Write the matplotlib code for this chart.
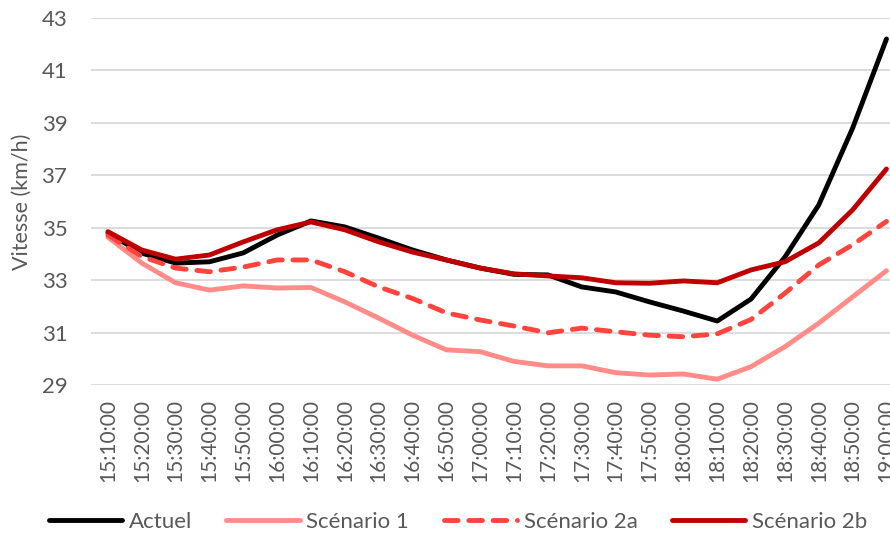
import matplotlib
matplotlib.use("Agg")
import matplotlib.pyplot as plt

plt.rcParams['font.family'] = ['Lato', 'DejaVu Sans']

times = ["15:10:00", "15:20:00", "15:30:00", "15:40:00", "15:50:00", "16:00:00",
         "16:10:00", "16:20:00", "16:30:00", "16:40:00", "16:50:00", "17:00:00",
         "17:10:00", "17:20:00", "17:30:00", "17:40:00", "17:50:00", "18:00:00",
         "18:10:00", "18:20:00", "18:30:00", "18:40:00", "18:50:00", "19:00:00"]

actuel = [34.80, 34.03, 33.65, 33.70, 34.04, 34.72, 35.26, 35.03, 34.60, 34.15, 33.77, 33.46,
          33.22, 33.20, 32.74, 32.55, 32.17, 31.82, 31.44, 32.28, 33.88, 35.87, 38.80, 42.20]
scen1 = [34.64, 33.65, 32.90, 32.62, 32.78, 32.70, 32.72, 32.17, 31.55, 30.90, 30.34, 30.27,
         29.90, 29.73, 29.73, 29.47, 29.38, 29.42, 29.22, 29.70, 30.46, 31.36, 32.36, 33.36]
scen2a = [34.72, 33.90, 33.46, 33.32, 33.50, 33.77, 33.77, 33.32, 32.74, 32.30, 31.75, 31.48,
          31.25, 30.99, 31.17, 31.03, 30.90, 30.84, 30.95, 31.50, 32.50, 33.58, 34.35, 35.24]
scen2b = [34.85, 34.15, 33.80, 33.96, 34.46, 34.92, 35.22, 34.92, 34.46, 34.07, 33.77, 33.46,
          33.24, 33.16, 33.09, 32.90, 32.88, 32.97, 32.90, 33.39, 33.70, 34.42, 35.68, 37.24]

W, H = 890, 537
fig = plt.figure(figsize=(W / 100, H / 100), dpi=100)
ax = fig.add_axes([91 / W, (H - 385) / H, 24 * 33.85 / W, (385 - 18) / H])

x = range(len(times))
lw = 3.5
ax.plot(x, actuel, color='black', lw=lw, label='Actuel', solid_capstyle='round', solid_joinstyle='round')
ax.plot(x, scen1, color='#FF8C88', lw=lw, label='Scénario 1', solid_capstyle='round', solid_joinstyle='round')
ax.plot(x, scen2a, color='#FF433D', lw=lw, label='Scénario 2a', dashes=(2.8, 2.2),
        dash_capstyle='round', dash_joinstyle='round')
ax.plot(x, scen2b, color='#C00000', lw=lw, label='Scénario 2b', solid_capstyle='round', solid_joinstyle='round')

ax.set_xlim(-0.5, len(times) - 0.5)
ax.set_ylim(29, 43)
ax.set_yticks(range(29, 44, 2))
ax.set_xticks(list(x))
ax.set_xticklabels(times, rotation=90)
ax.grid(axis='y', color='#D9D9D9', lw=1.3)
ax.set_axisbelow(True)
for s in ax.spines.values():
    s.set_visible(False)
ax.tick_params(length=0, labelcolor='#595959')
ax.tick_params(axis='y', labelsize=16, pad=17)
ax.tick_params(axis='x', labelsize=15, pad=10)
ax.set_ylabel('Vitesse (km/h)', fontsize=15.5, color='#595959', labelpad=7)

fig.legend(loc='center', bbox_to_anchor=(458 / W, 1 - 522 / H), ncol=4, frameon=False,
           fontsize=16, labelcolor='#595959', handlelength=3.3, handletextpad=0.3,
           columnspacing=1.55)

fig.savefig('out.png', dpi=100)
